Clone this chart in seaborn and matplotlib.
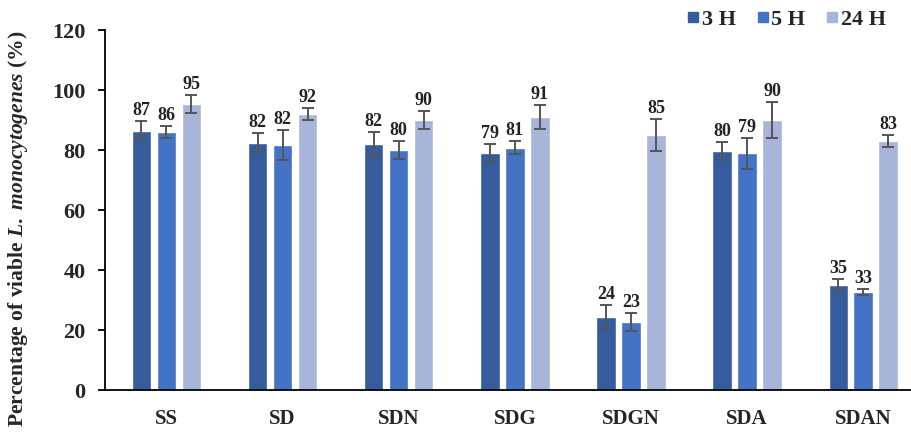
import matplotlib
matplotlib.use("Agg")
import matplotlib.pyplot as plt
from matplotlib.lines import Line2D
import seaborn as sns
import pandas as pd
import numpy as np

categories = ["SS", "SD", "SDN", "SDG", "SDGN", "SDA", "SDAN"]
series = ["3 H", "5 H", "24 H"]
vals_3h = [86.5, 82.4, 82.1, 78.9, 24.4, 79.8, 35.0]
vals_5h = [85.9, 81.8, 79.9, 80.8, 22.6, 78.9, 32.8]
vals_24h = [95.2, 91.9, 90.0, 91.0, 85.0, 90.1, 83.0]
err_3h = [3.3, 3.2, 4.0, 3.0, 4.0, 3.0, 2.0]
err_5h = [2.0, 5.0, 3.0, 2.2, 3.0, 5.2, 1.0]
err_24h = [3.0, 2.0, 3.0, 4.0, 5.2, 6.0, 2.1]
labels_3h = ["87", "82", "82", "79", "24", "80", "35"]
labels_5h = ["86", "82", "80", "81", "23", "79", "33"]
labels_24h = ["95", "92", "90", "91", "85", "90", "83"]
yticks = [0, 20, 40, 60, 80, 100, 120]

colors = ["#375C9E", "#4472C4", "#A7B5DB"]

sns.set_theme(style="white")
plt.rcParams["font.family"] = ["Liberation Serif", "DejaVu Serif"]
plt.rcParams["font.weight"] = "bold"
plt.rcParams["mathtext.fontset"] = "custom"
plt.rcParams["mathtext.rm"] = "Liberation Serif:bold"
plt.rcParams["mathtext.it"] = "Liberation Serif:bold:italic"

rows = []
for s, v in zip(series, [vals_3h, vals_5h, vals_24h]):
    for c, val in zip(categories, v):
        rows.append({"cat": c, "series": s, "val": val})
df = pd.DataFrame(rows)

fig = plt.figure(figsize=(9.12, 4.36), dpi=100)
ax = fig.add_axes([0.115, 0.1055, 0.885, 0.8255])
sns.barplot(data=df, x="cat", y="val", hue="series", order=categories,
            hue_order=series, palette=colors, width=0.645, gap=0.22,
            errorbar=None, ax=ax, legend=False, saturation=1)

errs = [err_3h, err_5h, err_24h]
vals = [vals_3h, vals_5h, vals_24h]
labs = [labels_3h, labels_5h, labels_24h]
bar_containers = list(ax.containers)
for i, cont in enumerate(bar_containers):
    xs = [p.get_x() + p.get_width() / 2 for p in cont.patches]
    ax.errorbar(xs, vals[i], yerr=errs[i], fmt="none", ecolor="#555555",
                elinewidth=1.4, capsize=4, capthick=1.4, zorder=5)
    for x, v, e, l in zip(xs, vals[i], errs[i], labs[i]):
        ax.annotate(l, (x, v + e), xytext=(0, 1.5), textcoords="offset points",
                    ha="center", va="bottom", fontsize=13, fontweight="bold",
                    color="#222222")

ax.set_xlim(-0.53, 6.42)
ax.set_ylim(0, 120)
ax.set_yticks(yticks)
ax.set_yticklabels([str(t) for t in yticks], fontsize=16, fontweight="bold")
ax.set_xticks(range(len(categories)))
ax.set_xticklabels(categories, fontsize=15, fontweight="bold")
ax.tick_params(axis="y", left=True, length=5, width=1.3, color="black", pad=9)
ax.tick_params(axis="x", bottom=False, pad=8)
ax.set_xlabel("")
ax.set_ylabel(r"Percentage of viable $\mathit{L.\ monocytogenes}$ (%)",
              fontsize=15.5, fontweight="bold")
ax.yaxis.set_label_coords(-0.093, 0.447)
for side in ["top", "right"]:
    ax.spines[side].set_visible(False)
for side in ["left", "bottom"]:
    ax.spines[side].set_color("black")
    ax.spines[side].set_linewidth(1.3)

handles = [Line2D([0], [0], marker="s", color="none", markerfacecolor=c,
                  markeredgecolor=c, markersize=6.5) for c in colors]
fig.legend(handles, series, loc="upper right", bbox_to_anchor=(0.993, 1.025),
           ncol=3, frameon=False, handlelength=0.45, handletextpad=0.15,
           columnspacing=1.0, prop={"family": "Liberation Serif",
                                    "weight": "bold", "size": 16})

fig.savefig("out.png", dpi=100)
